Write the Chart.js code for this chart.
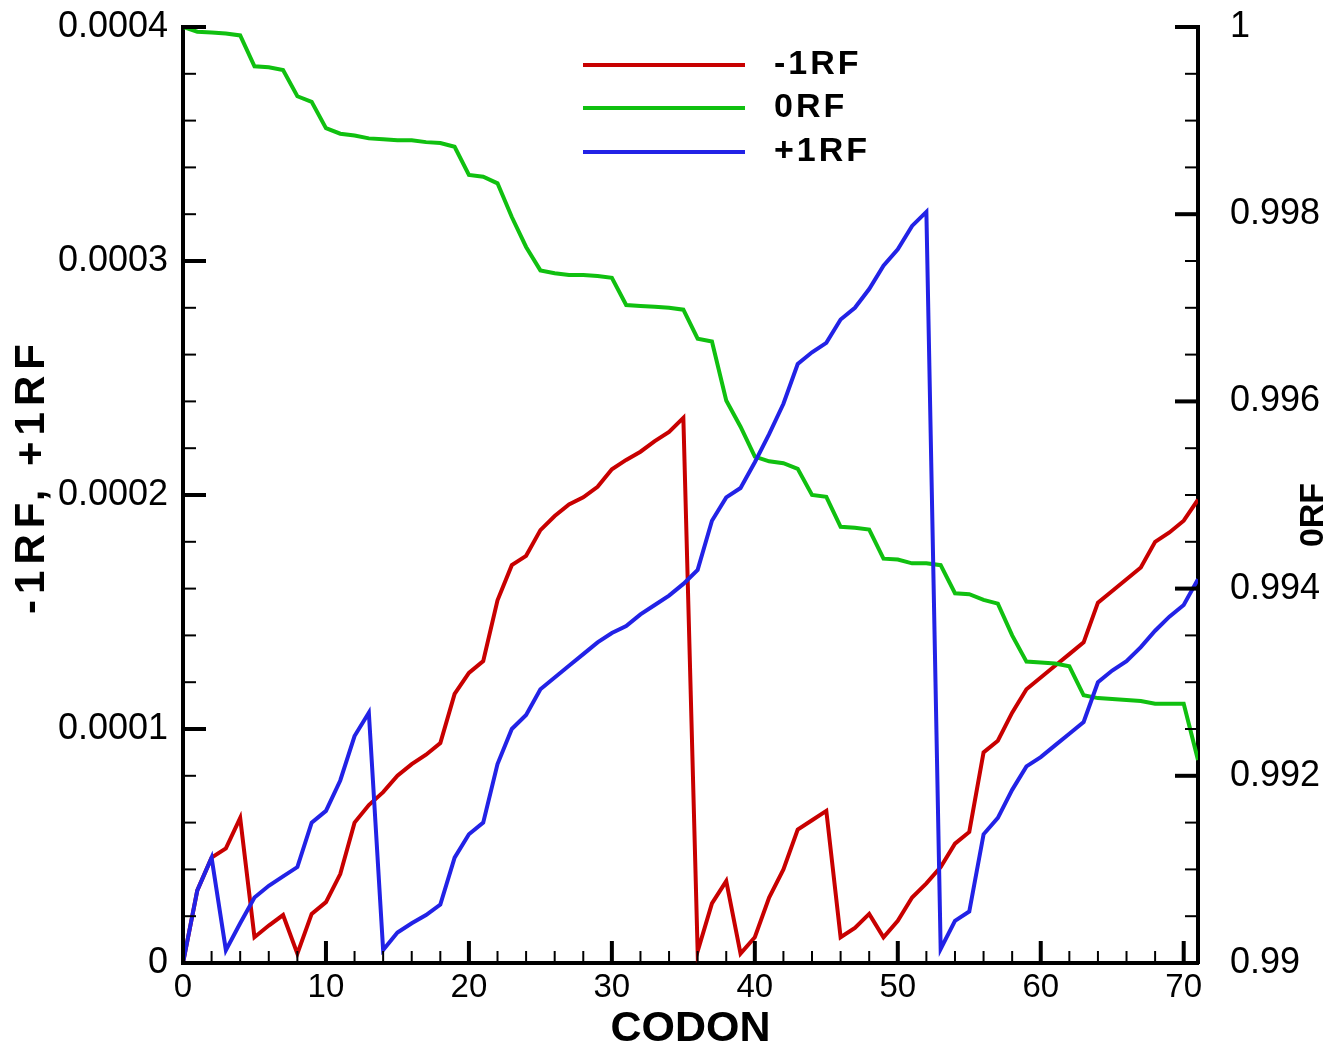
<!DOCTYPE html>
<html>
<head>
<meta charset="utf-8">
<script src="https://cdn.jsdelivr.net/npm/chart.js@4.4.1/dist/chart.umd.min.js"></script>
<style>
  html, body { margin: 0; padding: 0; background: #ffffff; }
  #wrap { width: 1342px; height: 1051px; position: relative; }
</style>
</head>
<body>
<div id="wrap"><canvas id="c"></canvas></div>
<script>
// ---- data ----
const codons = [0,1,2,3,4,5,6,7,8,9,10,11,12,13,14,15,16,17,18,19,20,21,22,23,24,25,26,27,28,29,30,31,32,33,34,35,36,37,38,39,40,41,42,43,44,45,46,47,48,49,50,51,52,53,54,55,56,57,58,59,60,61,62,63,64,65,66,67,68,69,70,71];

const minus1RF = [0,0.000031,0.000045,0.000049,0.000062,0.000011,0.000016,0.0000205,0.000004,0.000021,
  0.000026,0.000038,0.000060,0.0000675,0.000073,0.000080,0.000085,0.000089,0.000094,0.000115,
  0.000124,0.000129,0.000155,0.000170,0.000174,0.000185,0.000191,0.000196,0.000199,0.0002035,
  0.000211,0.000215,0.0002185,0.000223,0.000227,0.000233,0.000005,0.0000255,0.000035,0.000004,
  0.000011,0.000028,0.000040,0.000057,0.000061,0.000065,0.000011,0.000015,0.000021,0.000011,
  0.000018,0.000028,0.000034,0.000041,0.000051,0.000056,0.000090,0.000095,0.000107,0.000117,
  0.000122,0.000127,0.000132,0.000137,0.000154,0.000159,0.000164,0.000169,0.000180,0.000184,
  0.000189,0.000198];

const zeroRF = [1.0000,0.99995,0.99994,0.99993,0.99991,0.99958,0.99957,0.99954,0.99926,0.99920,
  0.99892,0.99886,0.99884,0.99881,0.99880,0.99879,0.99879,0.99877,0.99876,0.99872,
  0.99842,0.99840,0.99833,0.99797,0.99765,0.99740,0.99737,0.99735,0.99735,0.99734,
  0.99732,0.99703,0.99702,0.99701,0.99700,0.99698,0.99667,0.99664,0.99601,0.99573,
  0.99541,0.99536,0.99534,0.99528,0.99500,0.99498,0.99466,0.99465,0.99463,0.99432,
  0.99431,0.99427,0.99427,0.99425,0.99395,0.99394,0.99388,0.99384,0.99350,0.99322,
  0.99321,0.99320,0.99317,0.99286,0.99283,0.99282,0.99281,0.99280,0.99277,0.99277,
  0.99277,0.99217];

const plus1RF = [0,0.000031,0.000045,0.0000055,0.000017,0.000028,0.000033,0.000037,0.000041,0.000060,
  0.000065,0.000078,0.000097,0.000107,0.0000055,0.000013,0.000017,0.0000205,0.000025,0.000045,
  0.000055,0.000060,0.000085,0.000100,0.000106,0.000117,0.000122,0.000127,0.000132,0.000137,
  0.000141,0.000144,0.000149,0.000153,0.000157,0.000162,0.000168,0.000189,0.000199,0.000203,
  0.000214,0.000226,0.000239,0.000256,0.000261,0.000265,0.000275,0.000280,0.000288,0.000298,
  0.000305,0.000315,0.000321,0.000006,0.000018,0.000022,0.000055,0.000062,0.000074,0.000084,
  0.000088,0.000093,0.000098,0.000103,0.000120,0.000125,0.000129,0.000135,0.000142,0.000148,
  0.000153,0.000164];

const seriesNames = ['-1RF', '0RF', '+1RF'];
const xTickValues = [0,10,20,30,40,50,60,70];
const xTickLabels = ['0','10','20','30','40','50','60','70'];
const leftTickValues = [0,0.0001,0.0002,0.0003,0.0004];
const leftTickLabels = ['0','0.0001','0.0002','0.0003','0.0004'];
const rightTickValues = [0.99,0.992,0.994,0.996,0.998,1];
const rightTickLabels = ['0.99','0.992','0.994','0.996','0.998','1'];
const xTitle = 'CODON';
const leftTitle = '-1RF, +1RF';
const rightTitle = '0RF';

// ---- styles ----
const colors = ['#c80000', '#10c010', '#2222e6'];
const FONT = "'Liberation Sans', Arial, sans-serif";

function zeroPad(s) { s.paddingTop = 0; s.paddingBottom = 0; s.paddingLeft = 0; s.paddingRight = 0; }

const tickPlugin = {
  id: 'inwardTicks',
  afterDraw(chart) {
    const ctx = chart.ctx;
    const ca = chart.chartArea;
    const xs = chart.scales.x, yl = chart.scales.yL, yr = chart.scales.yR;
    ctx.save();
    ctx.strokeStyle = '#000';
    // left axis ticks (major every 5 minor)
    for (let i = 0; i <= 20; i++) {
      const major = i % 5 === 0;
      const y = yl.getPixelForValue(leftTickValues[0] + i * (leftTickValues[1] - leftTickValues[0]) / 5);
      ctx.lineWidth = major ? 4 : 2;
      ctx.beginPath();
      ctx.moveTo(ca.left, y);
      ctx.lineTo(ca.left + (major ? 23 : 13), y);
      ctx.stroke();
    }
    // right axis ticks (major every 4 minor)
    for (let i = 0; i <= 20; i++) {
      const major = i % 4 === 0;
      const y = yr.getPixelForValue(rightTickValues[0] + i * (rightTickValues[1] - rightTickValues[0]) / 4);
      ctx.lineWidth = major ? 4 : 2;
      ctx.beginPath();
      ctx.moveTo(ca.right, y);
      ctx.lineTo(ca.right - (major ? 23 : 13), y);
      ctx.stroke();
    }
    // bottom axis ticks (major every 5 minor)
    for (let i = 0; i <= 35; i++) {
      const major = i % 5 === 0;
      const x = xs.getPixelForValue(i * (xTickValues[1] - xTickValues[0]) / 5);
      ctx.lineWidth = major ? 4 : 2;
      ctx.beginPath();
      ctx.moveTo(x, ca.bottom);
      ctx.lineTo(x, ca.bottom - (major ? 22 : 12));
      ctx.stroke();
    }
    ctx.restore();

    // y-axis titles (both read bottom-to-top)
    ctx.save();
    ctx.fillStyle = '#000';
    ctx.textAlign = 'center';
    ctx.textBaseline = 'middle';
    ctx.font = 'bold 42px ' + FONT;
    ctx.letterSpacing = '6px';
    ctx.translate(32, 476);
    ctx.rotate(-Math.PI / 2);
    ctx.fillText(leftTitle, 0, 0);
    ctx.restore();

    ctx.save();
    ctx.fillStyle = '#000';
    ctx.textAlign = 'center';
    ctx.textBaseline = 'middle';
    ctx.font = 'bold 34px ' + FONT;
    ctx.letterSpacing = '0px';
    ctx.translate(1314, 515);
    ctx.rotate(-Math.PI / 2);
    ctx.fillText(rightTitle, 0, 0);
    ctx.restore();

    // legend
    ctx.save();
    const order = [0, 1, 2];
    const ys = [65, 108, 152];
    order.forEach((di, k) => {
      const ds = chart.data.datasets[di];
      ctx.strokeStyle = ds.borderColor;
      ctx.lineWidth = 4;
      ctx.beginPath();
      ctx.moveTo(583, ys[k]);
      ctx.lineTo(745, ys[k]);
      ctx.stroke();
      ctx.fillStyle = '#000';
      ctx.font = 'bold 34px ' + FONT;
      ctx.letterSpacing = '3px';
      ctx.textAlign = 'left';
      ctx.textBaseline = 'middle';
      ctx.fillText(ds.label, 774, ys[k]);
    });
    ctx.restore();
  }
};

new Chart(document.getElementById('c'), {
  type: 'line',
  data: {
    labels: codons,
    datasets: [
      { label: seriesNames[0], data: minus1RF, yAxisID: 'yL', borderColor: colors[0], order: 2 },
      { label: seriesNames[1], data: zeroRF, yAxisID: 'yR', borderColor: colors[1], order: 1 },
      { label: seriesNames[2], data: plus1RF, yAxisID: 'yL', borderColor: colors[2], order: 0 }
    ]
  },
  options: {
    responsive: true,
    maintainAspectRatio: false,
    animation: false,
    devicePixelRatio: 1,
    layout: { padding: { top: 27, left: 0, right: 0, bottom: 0 } },
    elements: {
      line: { borderWidth: 4, tension: 0, fill: false, borderCapStyle: 'butt', borderJoinStyle: 'miter' },
      point: { radius: 0, hoverRadius: 0 }
    },
    plugins: { legend: { display: false }, tooltip: { enabled: false } },
    scales: {
      x: {
        type: 'linear', position: 'bottom', min: 0, max: 71,
        afterFit(s) { s.height = 88; zeroPad(s); },
        afterBuildTicks(s) { s.ticks = xTickValues.map(v => ({ value: v })); },
        grid: { drawOnChartArea: false, drawTicks: false },
        border: { display: true, color: '#000', width: 4 },
        ticks: {
          color: '#000', padding: 5, maxRotation: 0, autoSkip: false,
          font: { family: FONT, size: 33 },
          callback: (v, i) => xTickLabels[i]
        },
        title: {
          display: true, text: xTitle, color: '#000',
          font: { family: FONT, size: 43, weight: 'bold', lineHeight: 1 },
          padding: { top: 0, bottom: 0 }
        }
      },
      yL: {
        type: 'linear', position: 'left', min: 0, max: 0.0004,
        afterFit(s) { s.width = 183; zeroPad(s); },
        afterBuildTicks(s) { s.ticks = leftTickValues.map(v => ({ value: v })); },
        grid: { drawOnChartArea: false, drawTicks: false },
        border: { display: true, color: '#000', width: 4 },
        ticks: {
          color: '#000', padding: 15, autoSkip: false,
          font: { family: FONT, size: 36 },
          callback: (v, i) => leftTickLabels[i]
        }
      },
      yR: {
        type: 'linear', position: 'right', min: 0.99, max: 1,
        afterFit(s) { s.width = 144; zeroPad(s); },
        afterBuildTicks(s) { s.ticks = rightTickValues.map(v => ({ value: v })); },
        grid: { drawOnChartArea: false, drawTicks: false },
        border: { display: true, color: '#000', width: 4 },
        ticks: {
          color: '#000', padding: 32, autoSkip: false,
          font: { family: FONT, size: 36 },
          callback: (v, i) => rightTickLabels[i]
        }
      }
    }
  },
  plugins: [tickPlugin]
});
</script>
</body>
</html>
